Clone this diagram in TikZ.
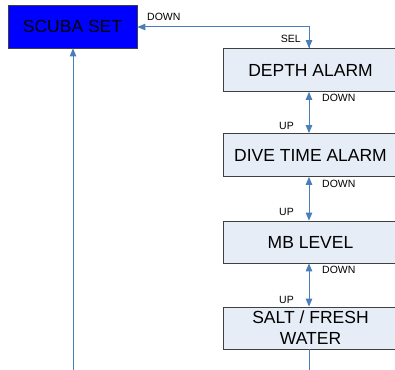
\documentclass[tikz,border=0pt]{standalone}
\usepackage{fontspec}
\setmainfont{Liberation Sans}
\usetikzlibrary{arrows.meta}
\definecolor{lineblue}{RGB}{74,126,187}
\definecolor{boxfill}{RGB}{230,237,247}
\definecolor{boxdraw}{RGB}{64,64,64}
\begin{document}
\begin{tikzpicture}[x=1pt,y=-1pt,
  menubox/.style={draw=boxdraw,line width=0.8pt,fill=boxfill,minimum width=175pt,minimum height=43pt,inner sep=0pt,align=center,font=\fontsize{17.5}{21}\selectfont},
  lbl/.style={font=\fontsize{10.5}{12}\selectfont,inner sep=0pt},
  conn/.style={draw=lineblue,line width=1pt},
  tip/.style={-{Triangle[length=8pt,width=6.5pt]}},
  both/.style={{Triangle[length=8pt,width=6.5pt]}-{Triangle[length=8pt,width=6.5pt]}}]
\useasboundingbox (0,0) rectangle (395,369);
\node[draw=boxdraw,line width=0.8pt,fill=blue,minimum width=129pt,minimum height=43pt,inner sep=0pt,font=\fontsize{17.5}{21}\selectfont] (scuba) at (72.5,26.5) {SCUBA SET};
\node[menubox] (depth) at (310.5,70) {DEPTH ALARM};
\node[menubox] (dive) at (310.5,155) {DIVE TIME ALARM};
\node[menubox,minimum height=42pt] (mb) at (310.5,242) {MB LEVEL};
\node[menubox,minimum height=42pt] (salt) at (310.5,328) {SALT / FRESH\\WATER};
\coordinate (bend) at (309,27);
\coordinate (bottomR) at (309,372);
\coordinate (bottomL) at (73,372);
\draw[conn,tip] (depth.north -| bend) -- (bend) -- (scuba.east |- bend);
\draw[conn,tip] (bend) -- (depth.north -| bend);
\draw[conn,both] (depth.south -| bend) -- (dive.north -| bend);
\draw[conn,both] (dive.south -| bend) -- (mb.north -| bend);
\draw[conn,both] (mb.south -| bend) -- (salt.north -| bend);
\draw[conn] (salt.south -| bend) -- (bottomR);
\draw[conn,tip] (bottomL) -- (scuba.south -| bottomL);
\node[lbl,anchor=west] (l1) at (147,17) {DOWN};
\node[lbl,anchor=east] (l2) at (301,39) {SEL};
\node[lbl,anchor=west] (l3) at (322,98) {DOWN};
\node[lbl,anchor=east] (l4) at (294,126) {UP};
\node[lbl,anchor=west] (l5) at (322,184) {DOWN};
\node[lbl,anchor=east] (l6) at (294,212) {UP};
\node[lbl,anchor=west] (l7) at (322,270) {DOWN};
\node[lbl,anchor=east] (l8) at (294,300) {UP};
\end{tikzpicture}
\end{document}
